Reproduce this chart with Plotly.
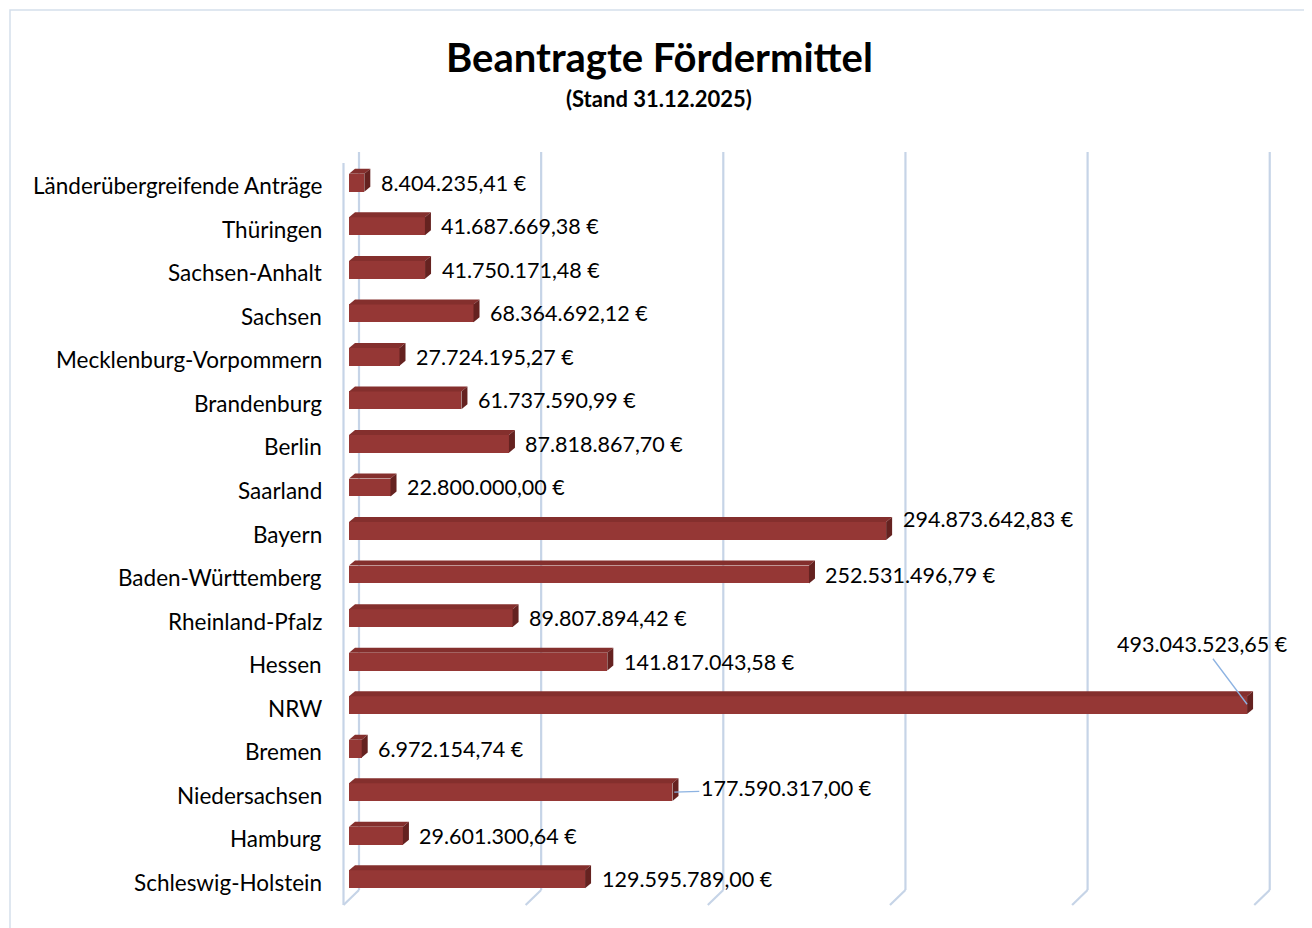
import plotly.graph_objects as go

categories = [
    "Länderübergreifende Anträge", "Thüringen", "Sachsen-Anhalt", "Sachsen",
    "Mecklenburg-Vorpommern", "Brandenburg", "Berlin", "Saarland", "Bayern",
    "Baden-Württemberg", "Rheinland-Pfalz", "Hessen", "NRW", "Bremen",
    "Niedersachsen", "Hamburg", "Schleswig-Holstein",
]
values = [
    8404235.41, 41687669.38, 41750171.48, 68364692.12,
    27724195.27, 61737590.99, 87818867.70, 22800000.00, 294873642.83,
    252531496.79, 89807894.42, 141817043.58, 493043523.65, 6972154.74,
    177590317.00, 29601300.64, 129595789.00,
]
grid_values = [0, 100e6, 200e6, 300e6, 400e6, 500e6]

title_text = "Beantragte Fördermittel"
subtitle_text = "(Stand 31.12.2025)"


def fmt_eur(v):
    s = f"{v:,.2f}"
    s = s.replace(",", "X").replace(".", ",").replace("X", ".")
    return s + " €"


FONT = "Lato"
OFF = 8                      # page body margin
K = 1.8215                   # pixels per million euro
X0 = -4.94e6
X1 = 522.1e6
ML, MT = 340 - OFF, 161 - OFF
PLOT_W, PLOT_H = 960, 740
MR = 1312 - ML - PLOT_W
MB = 928 - MT - PLOT_H
ROW_PX = PLOT_H / len(categories)


def px_x(px):
    return (px - OFF - ML) / PLOT_W


def px_y(py):
    return (MT + PLOT_H - (py - OFF)) / PLOT_H


bar_w = 0.41
dx = 6 / K * 1e6
dy = 5 / ROW_PX

front = "#953735"
top_c = "#842F2D"
side_c = "#652220"
grid_c = "#C6D4E7"

n = len(categories)
ypos = list(range(n))

fig = go.Figure()
fig.add_trace(go.Bar(
    x=values, y=ypos, orientation="h", width=bar_w,
    marker=dict(color=front, line=dict(width=0)),
    hoverinfo="skip", showlegend=False,
))

shapes = []
# outer border
shapes.append(dict(type="rect", xref="paper", yref="paper",
                   x0=px_x(10), x1=px_x(1305), y0=px_y(945), y1=px_y(10),
                   line=dict(color="#D5DFEC", width=1.5), layer="below"))
# gridlines (back wall + floor diagonal)
y_top = px_y(152)
y_back_bot = px_y(890)
y_front_bot = px_y(905)
back_off = 10 / K * 1e6
front_off = -5.5 / K * 1e6
for g in grid_values:
    shapes.append(dict(type="line", xref="x", yref="paper",
                       x0=g + back_off, x1=g + back_off, y0=y_top, y1=y_back_bot,
                       line=dict(color=grid_c, width=2.2), layer="below"))
    shapes.append(dict(type="line", xref="x", yref="paper",
                       x0=g + back_off, x1=g + front_off, y0=y_back_bot, y1=y_front_bot,
                       line=dict(color=grid_c, width=2.2), layer="below"))
# left wall front edge
shapes.append(dict(type="line", xref="x", yref="paper",
                   x0=front_off, x1=front_off, y0=px_y(163), y1=y_front_bot,
                   line=dict(color=grid_c, width=2.2), layer="below"))

# 3D faces
for i, v in enumerate(values):
    yt = i - bar_w / 2
    yb = i + bar_w / 2
    shapes.append(dict(type="path", xref="x", yref="y",
                       path=f"M 0 {yt} L {v} {yt} L {v + dx} {yt - dy} L {dx} {yt - dy} Z",
                       fillcolor=top_c, line=dict(width=0), layer="above"))
    shapes.append(dict(type="path", xref="x", yref="y",
                       path=f"M {v} {yt} L {v + dx} {yt - dy} L {v + dx} {yb - dy} L {v} {yb} Z",
                       fillcolor=side_c, line=dict(width=0), layer="above"))

annotations = []
# category labels
for i, c in enumerate(categories):
    annotations.append(dict(xref="paper", yref="y", x=px_x(323.5), y=i,
                            text=c, showarrow=False, xanchor="right", yanchor="middle",
                            yshift=-3, font=dict(family=FONT, size=22.5, color="#000000")))
# value labels
label_gap = 14.5 / K * 1e6
VAL_SIZE = 21.5
for i, (c, v) in enumerate(zip(categories, values)):
    txt = fmt_eur(v)
    if c == "NRW":
        annotations.append(dict(xref="x", yref="y", x=v, y=i - 0.02, text=txt,
                                showarrow=True, arrowhead=0, arrowwidth=1.3,
                                arrowcolor="#8DB3E2", ax=-45, ay=-60,
                                font=dict(family=FONT, size=VAL_SIZE, color="#000000")))
    elif c == "Niedersachsen":
        annotations.append(dict(xref="x", yref="y", x=v + dx * 0.3, y=i, text=txt,
                                showarrow=True, arrowhead=0, arrowwidth=1.3,
                                arrowcolor="#8DB3E2", ax=112, ay=-4, standoff=0,
                                font=dict(family=FONT, size=VAL_SIZE, color="#000000")))
    else:
        ys = 12 if c == "Bayern" else 0
        annotations.append(dict(xref="x", yref="y", x=v + label_gap, y=i, text=txt,
                                showarrow=False, xanchor="left", yanchor="middle",
                                yshift=ys, font=dict(family=FONT, size=VAL_SIZE, color="#000000")))
# subtitle
annotations.append(dict(xref="paper", yref="paper", x=px_x(659),
                        y=px_y(98), text=f"<b>{subtitle_text}</b>",
                        showarrow=False, xanchor="center", yanchor="middle",
                        font=dict(family=FONT, size=22, color="#000000")))
# title
annotations.append(dict(xref="paper", yref="paper", x=px_x(659),
                        y=px_y(57), text=f"<b>{title_text}</b>",
                        showarrow=False, xanchor="center", yanchor="middle",
                        font=dict(family=FONT, size=40, color="#000000")))

fig.update_layout(
    width=1312, height=928,
    margin=dict(l=ML, r=MR, t=MT, b=MB),
    paper_bgcolor="white", plot_bgcolor="rgba(0,0,0,0)",
    xaxis=dict(range=[X0, X1], showgrid=False, zeroline=False, showticklabels=False,
               showline=False, fixedrange=True),
    yaxis=dict(range=[n - 0.5, -0.5], showgrid=False, zeroline=False,
               showticklabels=False, showline=False, fixedrange=True),
    shapes=shapes, annotations=annotations, bargap=0,
)

fig.write_html("out.html")
